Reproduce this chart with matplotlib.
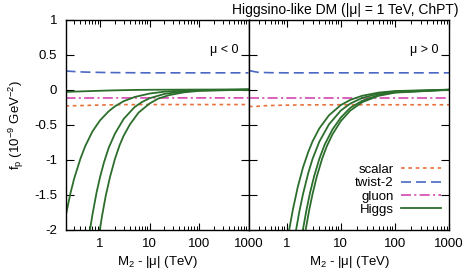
import matplotlib
matplotlib.use("Agg")
import matplotlib.pyplot as plt
from matplotlib.ticker import LogLocator, FixedLocator, NullFormatter

plt.rcParams['font.family'] = ['Liberation Sans', 'DejaVu Sans']
plt.rcParams['mathtext.fontset'] = 'custom'
plt.rcParams['mathtext.rm'] = 'Liberation Sans'
plt.rcParams['mathtext.it'] = 'Liberation Sans'

# ---------------- data ----------------
title = "Higgsino-like DM (|μ| = 1 TeV, ChPT)"
panel_labels = ["μ < 0", "μ > 0"]
legend_labels = ["scalar", "twist-2", "gluon", "Higgs"]
xticks = [1, 10, 100, 1000]
xtick_labels = ["1", "10", "100", "1000"]
yticks = [1, 0.5, 0, -0.5, -1, -1.5, -2]
ytick_labels = ["1", "0.5", "0", "-0.5", "-1", "-1.5", "-2"]

# mu < 0 panel
neg_scalar_x = [0.2, 0.3, 0.5, 1, 3, 10, 100, 1000]
neg_scalar_y = [-0.235, -0.232, -0.228, -0.222, -0.216, -0.215, -0.215, -0.215]
neg_twist_x = [0.2, 0.3, 0.5, 1, 2, 5, 10, 100, 1000]
neg_twist_y = [0.265, 0.256, 0.249, 0.244, 0.241, 0.239, 0.238, 0.238, 0.238]
neg_gluon_x = [0.2, 1, 10, 100, 1000]
neg_gluon_y = [-0.122, -0.121, -0.12, -0.12, -0.12]

neg_higgs_x = [
    [0.2, 0.3, 0.5, 1, 2, 5, 10, 100, 1000],
    [0.19, 0.25, 0.3, 0.4, 0.5, 0.7, 1, 1.5, 2, 3, 5, 10, 20, 50, 100, 1000],
    [0.62, 0.7, 0.85, 1, 1.2, 1.5, 2, 3, 5, 7, 10, 20, 50, 100, 1000],
    [0.99, 1.1, 1.3, 1.6, 2, 2.5, 3, 4, 6, 10, 15, 25, 50, 100, 1000],
]
neg_higgs_y = [
    [-0.035, -0.03, -0.025, -0.018, -0.012, -0.006, -0.004, -0.001, 0.0],
    [-1.90, -1.49, -1.27, -0.99, -0.81, -0.60, -0.44, -0.31, -0.24, -0.167, -0.107, -0.058, -0.031, -0.014, -0.008, -0.001],
    [-2.02, -1.79, -1.47, -1.25, -1.04, -0.83, -0.63, -0.42, -0.25, -0.18, -0.125, -0.063, -0.025, -0.013, -0.001],
    [-2.0, -1.8, -1.52, -1.24, -0.99, -0.79, -0.66, -0.50, -0.33, -0.20, -0.13, -0.08, -0.04, -0.02, -0.002],
]

# mu > 0 panel
pos_scalar_x = [0.2, 0.245, 0.38, 0.77, 2, 10, 100, 1000]
pos_scalar_y = [-0.239, -0.245, -0.232, -0.225, -0.22, -0.218, -0.218, -0.218]
pos_twist_x = [0.2, 0.25, 0.3, 0.5, 1, 10, 100, 1000]
pos_twist_y = [0.272, 0.255, 0.245, 0.24, 0.238, 0.238, 0.238, 0.238]
pos_gluon_x = [0.2, 1, 10, 100, 1000]
pos_gluon_y = [-0.12, -0.12, -0.12, -0.12, -0.12]

pos_higgs_x = [
    [1.11, 1.3, 1.6, 2, 2.5, 3, 4, 6, 10, 15, 25, 50, 100, 1000],
    [1.49, 1.7, 2, 2.5, 3, 4, 6, 10, 15, 25, 50, 100, 1000],
    [1.99, 2.3, 2.7, 3.2, 4, 5, 7, 10, 15, 25, 50, 100, 1000],
    [2.24, 2.6, 3, 3.6, 4.5, 5.5, 7, 10, 15, 25, 50, 100, 1000],
]
pos_higgs_y = [
    [-2.0, -1.71, -1.39, -1.11, -0.89, -0.74, -0.555, -0.37, -0.222, -0.148, -0.089, -0.044, -0.022, -0.002],
    [-2.0, -1.75, -1.49, -1.19, -0.99, -0.745, -0.50, -0.30, -0.20, -0.12, -0.06, -0.03, -0.003],
    [-2.0, -1.73, -1.47, -1.24, -0.99, -0.79, -0.57, -0.40, -0.26, -0.16, -0.08, -0.04, -0.004],
    [-2.0, -1.72, -1.49, -1.24, -0.99, -0.81, -0.64, -0.45, -0.30, -0.18, -0.09, -0.045, -0.0045],
]

# ---------------- styles ----------------
c_scalar = '#e8703a'
c_twist = '#4a68c4'
c_gluon = '#d446b0'
c_higgs = '#2c6e2c'
ls_scalar = (0, (2.2, 2.2))
ls_twist = (0, (6, 3))
ls_gluon = (0, (6, 2, 1.2, 2))
FS = 9.5

W, H = 465, 278
fig = plt.figure(figsize=(W / 100, H / 100), dpi=100)
ax1 = fig.add_axes([65.5 / W, 1 - 229.5 / H, 183 / W, 210 / H])
ax2 = fig.add_axes([249 / W, 1 - 229.5 / H, 200 / W, 210 / H])

panels = [
    (ax1, neg_scalar_x, neg_scalar_y, neg_twist_x, neg_twist_y, neg_gluon_x, neg_gluon_y, neg_higgs_x, neg_higgs_y),
    (ax2, pos_scalar_x, pos_scalar_y, pos_twist_x, pos_twist_y, pos_gluon_x, pos_gluon_y, pos_higgs_x, pos_higgs_y),
]

for i, (ax, sx, sy, tx, ty, gx, gy, hx, hy) in enumerate(panels):
    ax.plot(sx, sy, color=c_scalar, lw=1.2, ls=ls_scalar, label=legend_labels[0])
    ax.plot(tx, ty, color=c_twist, lw=1.2, ls=ls_twist, label=legend_labels[1])
    ax.plot(gx, gy, color=c_gluon, lw=1.2, ls=ls_gluon, label=legend_labels[2])
    for j, (xx, yy) in enumerate(zip(hx, hy)):
        ax.plot(xx, yy, color=c_higgs, lw=1.3, label=legend_labels[3] if j == 0 else None)
    ax.set_xscale('log')
    ax.set_xlim(0.2, 1000)
    ax.set_ylim(-2, 1)
    ax.xaxis.set_major_locator(FixedLocator(xticks))
    ax.set_xticklabels(xtick_labels, fontsize=FS)
    ax.xaxis.set_minor_locator(LogLocator(base=10, subs=[2, 3, 4, 5, 6, 7, 8, 9], numticks=20))
    ax.xaxis.set_minor_formatter(NullFormatter())
    ax.set_yticks(yticks)
    if i == 0:
        ax.set_yticklabels(ytick_labels, fontsize=FS)
    else:
        ax.set_yticklabels([])
    ax.tick_params(axis='x', which='major', direction='in', top=True, bottom=True, length=5, width=0.8, pad=6, labelsize=FS)
    ax.tick_params(axis='x', which='minor', direction='in', top=True, bottom=True, length=2.8, width=0.7)
    ax.tick_params(axis='y', which='major', direction='in', left=True, right=True, length=6, width=0.8, pad=6, labelsize=FS)
    for s in ax.spines.values():
        s.set_linewidth(1.0)
    ax.set_xlabel("M$_2$ - |μ| (TeV)", fontsize=FS, labelpad=3)
    ax.text(0.945, 0.855, panel_labels[i], transform=ax.transAxes, ha='right', va='center', fontsize=9)

ax1.set_ylabel("f$_\\mathrm{p}$ (10$^{-9}$ GeV$^{-2}$)", fontsize=FS, labelpad=6)

fig.text(458 / W, 1 - 10 / H, title, ha='right', va='center', fontsize=10)

h, l = ax2.get_legend_handles_labels()
ax2.legend(h, l, loc='lower right', bbox_to_anchor=(0.96, 0.065), frameon=False,
           markerfirst=False, fontsize=FS, handlelength=3.0, handletextpad=0.6,
           labelspacing=0.08, borderpad=0, borderaxespad=0)

fig.savefig("out.png", dpi=100)
